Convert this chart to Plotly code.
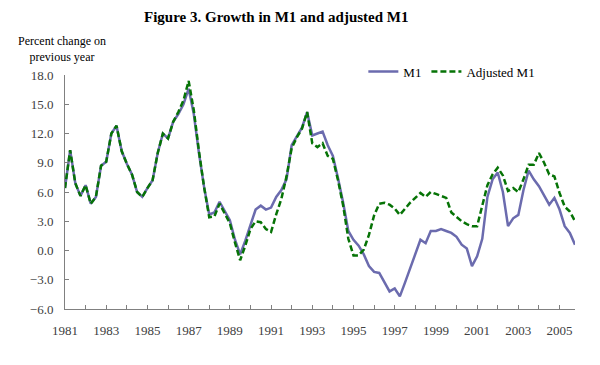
import numpy as np
import plotly.graph_objects as go

# Quarterly growth, percent change on previous year, 1981Q1 - 2005Q4.
start_year = 1981
m1 = [6.4, 10.3, 6.9, 5.6, 6.7, 4.8, 5.5, 8.7, 9.1, 12.0,
      12.8, 10.2, 8.9, 7.8, 6.0, 5.5, 6.4, 7.2, 10.0, 12.0,
      11.5, 13.2, 14.0, 15.0, 16.6, 14.0, 10.0, 6.5, 3.7, 3.9,
      5.0, 4.0, 3.1, 1.1, -0.4, 1.0, 2.7, 4.2, 4.6, 4.2,
      4.4, 5.5, 6.2, 7.3, 10.8, 11.7, 12.6, 14.2, 11.8, 12.0,
      12.2, 10.8, 9.7, 7.4, 4.9, 2.0, 1.1, 0.5, -0.4, -1.6,
      -2.2, -2.3, -3.3, -4.2, -3.9, -4.7, -3.3, -1.8, -0.4, 1.1,
      0.75, 2.0, 2.0, 2.2, 2.0, 1.8, 1.4, 0.6, 0.2, -1.6,
      -0.6, 1.2, 5.5, 7.3, 8.0, 6.0, 2.5, 3.3, 3.65, 6.2,
      8.2, 7.3, 6.6, 5.6, 4.7, 5.4, 4.2, 2.5, 1.8, 0.6]
adjusted_m1 = [6.4, 10.3, 6.9, 5.6, 6.7, 4.8, 5.5, 8.7, 9.1, 12.0,
               12.8, 10.2, 8.9, 7.8, 6.0, 5.5, 6.4, 7.2, 10.0, 12.0,
               11.5, 13.2, 14.2, 15.4, 17.4, 14.4, 10.2, 6.5, 3.4, 3.5,
               4.8, 3.8, 2.8, 0.8, -1.0, 0.5, 2.2, 3.0, 2.9, 2.2,
               1.9, 3.7, 5.3, 7.6, 10.5, 11.6, 12.5, 14.2, 11.0, 10.6,
               11.0, 9.7, 9.4, 7.2, 4.6, 1.2, -0.5, -0.5, 0.1, 1.6,
               3.6, 4.8, 4.9, 4.7, 4.3, 3.65, 4.3, 4.9, 5.4, 5.9,
               5.5, 6.0, 5.8, 5.6, 5.4, 3.9, 3.4, 3.0, 2.7, 2.5,
               2.5, 4.5, 6.7, 7.8, 8.5, 7.7, 6.1, 6.4, 6.0, 7.3,
               8.8, 8.8, 10.0, 9.0, 7.8, 7.6, 5.9, 4.5, 4.0, 3.0]
years = list(range(1981, 2006))
year_labels = [str(y) if (y - 1981) % 2 == 0 else '' for y in years]

quarters = start_year + np.arange(len(m1)) / 4

serif = 'Liberation Serif, Times New Roman, serif'

fig = go.Figure()
fig.add_trace(go.Scatter(x=quarters, y=m1, name='M1', mode='lines',
                         line=dict(color='#6B6BAE', width=2.5)))
fig.add_trace(go.Scatter(x=quarters, y=adjusted_m1, name='Adjusted M1',
                         mode='lines',
                         line=dict(color='#067306', width=2.5, dash='6px,3px')))

fig.update_layout(
    width=600, height=365,
    margin=dict(l=65, r=25, t=75, b=56, autoexpand=False),
    paper_bgcolor='white', plot_bgcolor='white',
    font=dict(family=serif, size=13, color='#404040'),
    legend=dict(orientation='h', x=0.585, y=1.015, xanchor='left',
                yanchor='middle', font=dict(family=serif, size=13, color='black'),
                bgcolor='rgba(0,0,0,0)', itemwidth=30, tracegroupgap=0),
    showlegend=True,
)
# Title as an annotation so it sits exactly where the original has it.
fig.add_annotation(text='<b>Figure 3. Growth in M1 and adjusted M1</b>',
                   xref='paper', yref='paper', x=0.414, y=1.248,
                   xanchor='center', yanchor='middle', showarrow=False,
                   font=dict(family=serif, size=15, color='black'))
fig.add_annotation(text='Percent change on<br>previous year', xref='paper',
                   yref='paper', x=-0.006, y=1.11, xanchor='center',
                   yanchor='middle', showarrow=False, align='center',
                   font=dict(family=serif, size=12, color='black'))

fig.update_xaxes(range=[start_year, start_year + (len(m1) - 1) / 4],
                 tickvals=years, ticktext=year_labels,
                 ticks='inside', ticklen=4, tickcolor='#808080',
                 showline=True, linecolor='#808080', linewidth=1,
                 showgrid=False, zeroline=False, ticklabelstandoff=9)
fig.update_yaxes(range=[-6, 18], dtick=3, tick0=0, tickformat='.1f',
                 ticks='inside', ticklen=4, tickcolor='#808080',
                 showline=True, linecolor='#808080', linewidth=1,
                 showgrid=False, zeroline=False, ticklabelstandoff=8)

# Drop the default page margin so the figure starts at the window corner.
fig.write_html('out.html', config={'displayModeBar': False},
               post_script="document.body.style.margin='0';")
